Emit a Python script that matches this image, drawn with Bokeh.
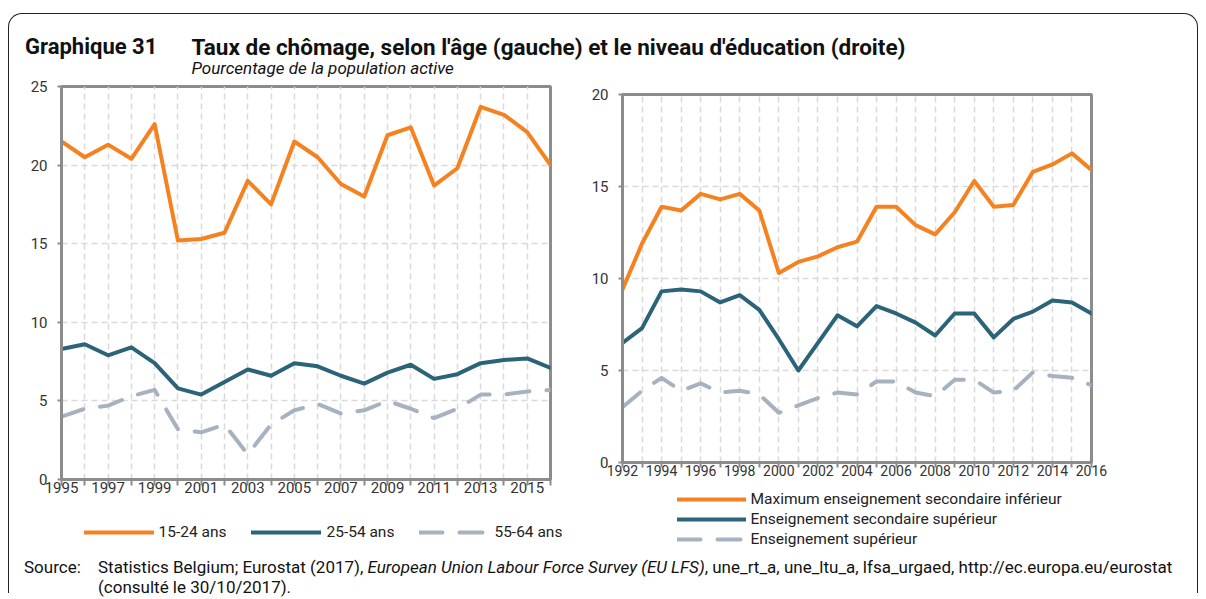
from bokeh.plotting import figure
from bokeh.models import Range1d, FixedTicker, Legend, LegendItem, Div
from bokeh.layouts import column
from bokeh.embed import file_html
from bokeh.resources import INLINE

# ---------------- data ----------------
years_age = [1995, 1996, 1997, 1998, 1999, 2000, 2001, 2002, 2003, 2004, 2005,
             2006, 2007, 2008, 2009, 2010, 2011, 2012, 2013, 2014, 2015, 2016]
age_15_24 = [21.5, 20.5, 21.3, 20.4, 22.6, 15.2, 15.3, 15.7, 19.0, 17.5, 21.5,
             20.5, 18.8, 18.0, 21.9, 22.4, 18.7, 19.8, 23.7, 23.2, 22.1, 20.0]
age_25_54 = [8.3, 8.6, 7.9, 8.4, 7.4, 5.8, 5.4, 6.2, 7.0, 6.6, 7.4,
             7.2, 6.6, 6.1, 6.8, 7.3, 6.4, 6.7, 7.4, 7.6, 7.7, 7.1]
age_55_64 = [4.0, 4.5, 4.7, 5.3, 5.7, 3.2, 3.0, 3.5, 1.6, 3.5, 4.4,
             4.8, 4.2, 4.4, 5.0, 4.5, 3.9, 4.5, 5.4, 5.4, 5.6, 5.7]

years_edu = [1992, 1993, 1994, 1995, 1996, 1997, 1998, 1999, 2000, 2001, 2002, 2003, 2004,
             2005, 2006, 2007, 2008, 2009, 2010, 2011, 2012, 2013, 2014, 2015, 2016]
edu_low = [9.4, 11.9, 13.9, 13.7, 14.6, 14.3, 14.6, 13.7, 10.3, 10.9, 11.2, 11.7, 12.0,
           13.9, 13.9, 12.9, 12.4, 13.6, 15.3, 13.9, 14.0, 15.8, 16.2, 16.8, 15.9]
edu_mid = [6.5, 7.3, 9.3, 9.4, 9.3, 8.7, 9.1, 8.3, 6.7, 5.0, 6.5, 8.0, 7.4,
           8.5, 8.1, 7.6, 6.9, 8.1, 8.1, 6.8, 7.8, 8.2, 8.8, 8.7, 8.1]
edu_high = [3.0, 3.9, 4.6, 3.9, 4.3, 3.8, 3.9, 3.7, 2.7, 3.1, 3.5, 3.8, 3.7,
            4.4, 4.4, 3.8, 3.6, 4.5, 4.5, 3.8, 3.9, 4.9, 4.7, 4.6, 4.2]

labels_age = ["15-24 ans", "25-54 ans", "55-64 ans"]
labels_edu = ["Maximum enseignement secondaire inférieur",
              "Enseignement secondaire supérieur",
              "Enseignement supérieur"]
yticks_age = [0, 5, 10, 15, 20, 25]
yticks_edu = [0, 5, 10, 15, 20]
xlabels_age = [1995, 1997, 1999, 2001, 2003, 2005, 2007, 2009, 2011, 2013, 2015]
xlabels_edu = [1992, 1994, 1996, 1998, 2000, 2002, 2004, 2006, 2008, 2010, 2012, 2014, 2016]

title_num = "Graphique 31"
title_txt = "Taux de chômage, selon l'âge (gauche) et le niveau d'éducation (droite)"
subtitle = "Pourcentage de la population active"
source_lbl = "Source:"
source_txt = ("Statistics Belgium; Eurostat (2017), <i>European Union Labour Force Survey (EU LFS)</i>, "
              "une_rt_a, une_ltu_a, lfsa_urgaed, http://ec.europa.eu/eurostat<br>(consulté le 30/10/2017).")

# ---------------- style ----------------
ORANGE = "#F58220"
TEAL = "#2B6479"
GREYBLUE = "#A6B2C0"
AXIS = "#8C8C8C"
GRID = "#D9D9D9"
FONT = "Roboto"
TXT = "#333333"
SERIES_STYLE = [dict(line_color=ORANGE), dict(line_color=TEAL),
                dict(line_color=GREYBLUE, line_dash="23 17")]


def pos(left, top, w=None, h=None):
    s = {"position": "absolute", "left": f"{left}px", "top": f"{top}px"}
    if w is not None:
        s["width"] = f"{w}px"
        s["height"] = f"{h}px"
    return s


def make_chart(xs, ymax, yticks, xshown, width, height, border, tick_out, standoff, xsize):
    left, right, top, bottom = border
    p = figure(width=width, height=height, x_range=Range1d(xs[0], xs[-1]),
               y_range=Range1d(0, ymax), output_backend="svg", toolbar_location=None,
               min_border_left=left, min_border_right=right, min_border_top=top,
               min_border_bottom=bottom)
    p.background_fill_color = "white"
    p.border_fill_color = None
    p.outline_line_color = AXIS
    p.outline_line_width = 3
    p.xaxis.ticker = FixedTicker(ticks=xs)
    p.yaxis.ticker = FixedTicker(ticks=yticks)
    p.xaxis.major_label_overrides = {t: (str(t) if t in xshown else "") for t in xs}
    for ax in (p.xaxis, p.yaxis):
        ax.axis_line_color = AXIS
        ax.axis_line_width = 3
        ax.major_tick_line_color = AXIS
        ax.major_tick_line_width = 2
        ax.minor_tick_line_color = None
        ax.major_tick_in = 0
        ax.major_label_text_font = FONT
        ax.major_label_text_font_size = "15px"
        ax.major_label_text_color = TXT
    p.xaxis.major_label_text_font_size = xsize
    p.xaxis.major_tick_out = tick_out
    p.xaxis.major_label_standoff = standoff
    p.yaxis.major_tick_out = 4
    p.yaxis.major_label_standoff = 10
    for g in (p.xgrid, p.ygrid):
        g.grid_line_color = GRID
        g.grid_line_width = 1.5
        g.grid_line_dash = "6 4"
    return p


def add_series(p, xs, series):
    return [p.line(xs, ys, line_width=4, line_join="round", line_cap="round", **st)
            for ys, st in zip(series, SERIES_STYLE)]


def legend_fig(labels, width, height, orientation, loc, spacing, glyph_width):
    # a bare canvas that only carries the legend; its sample lines hold one empty (NaN) point
    lg = figure(width=width, height=height, x_range=Range1d(0, 1), y_range=Range1d(0, 1),
                output_backend="svg", toolbar_location=None, min_border=0,
                x_axis_location=None, y_axis_location=None)
    lg.grid.visible = False
    lg.outline_line_color = None
    lg.background_fill_color = None
    lg.border_fill_color = None
    nan = float("nan")
    rs = [lg.line([nan], [nan], line_width=4, line_cap="round", **st) for st in SERIES_STYLE]
    lg.add_layout(Legend(items=[LegendItem(label=l, renderers=[r], index=0)
                                for l, r in zip(labels, rs)],
                         orientation=orientation, location=loc, padding=0, margin=0,
                         spacing=spacing, glyph_width=glyph_width, glyph_height=20,
                         label_height=20, label_standoff=5, label_text_font=FONT,
                         label_text_font_size="15.5px", label_text_color="#222222",
                         background_fill_alpha=0, border_line_alpha=0))
    return lg


# ---------------- left chart: canvas at page (9.5, 74.5); frame 60.5..549.5 x 85.5..478.5
p1 = make_chart(years_age, 25, yticks_age, xlabels_age, 572, 434, (51, 32, 11, 30), 6, -4, "15px")
add_series(p1, years_age, [age_15_24, age_25_54, age_55_64])
lg1 = legend_fig(labels_age, 520, 34, "horizontal", (23, 7), 25, 70)

# ---------------- right chart: canvas at page (581.5, 74.5); frame 621.5..1090.5 x 93.5..461.5
p2 = make_chart(years_edu, 20, yticks_edu, xlabels_edu, 618, 412, (40, 109, 19, 25), 5, -3, "14px")
add_series(p2, years_edu, [edu_low, edu_mid, edu_high])
lg2 = legend_fig(labels_edu, 560, 70, "vertical", (55, 3), 0, 69)

left_box = column(p1, width=572, height=434, styles=pos(9.5, 74.5, 572, 434))
right_box = column(p2, width=618, height=412, styles=pos(581.5, 74.5, 618, 412))
left_leg = column(lg1, width=520, height=34, styles=pos(60.5, 515, 520, 34))
right_leg = column(lg2, width=560, height=70, styles=pos(621.5, 482, 560, 70))

# ---------------- frame, header, footer ----------------
box_style = pos(8, 13)
box_style.update({"border": "1.5px solid #222", "border-bottom": "none",
                  "border-radius": "14px 14px 0 0"})
box = Div(text="", width=1190, height=580, margin=0, styles=box_style)

header_html = f"""
<div style="position:relative;width:1190px;height:60px;font-family:Roboto;color:#111;">
  <span style="position:absolute;left:15.5px;top:21.5px;font-weight:bold;font-size:22px;line-height:22px;white-space:nowrap;">{title_num}</span>
  <span style="position:absolute;left:182px;top:21.5px;font-weight:bold;font-size:22.5px;line-height:22px;white-space:nowrap;">{title_txt}</span>
  <span style="position:absolute;left:182px;top:45.5px;font-style:italic;font-size:17px;line-height:17px;white-space:nowrap;">{subtitle}</span>
</div>"""
header = Div(text=header_html, width=1190, height=60, margin=0, styles=pos(9.5, 14.5))

footer_html = f"""
<div style="position:relative;width:1190px;height:56px;overflow:hidden;font-family:Roboto;font-size:17px;line-height:20px;color:#111;">
  <span style="position:absolute;left:14.5px;top:14.5px;white-space:nowrap;">{source_lbl}</span>
  <span style="position:absolute;left:88.5px;top:14.5px;white-space:nowrap;">{source_txt}</span>
</div>"""
footer = Div(text=footer_html, width=1190, height=56, margin=0, styles=pos(9.5, 542.5))

open("out.html", "w").write(file_html([box, header, left_box, right_box, left_leg, right_leg, footer],
                                      INLINE))
